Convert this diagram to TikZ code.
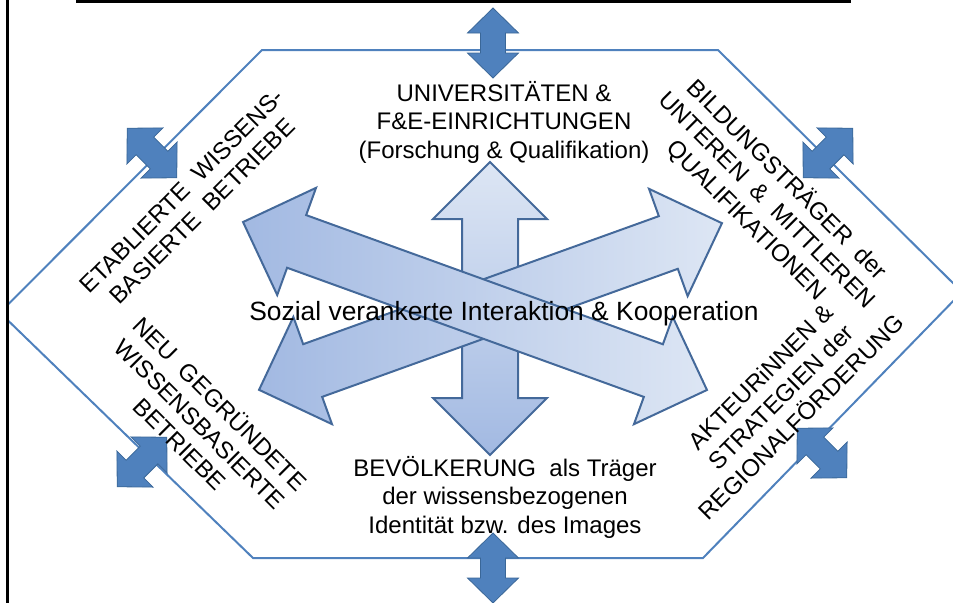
\documentclass[tikz,border=0pt]{standalone}
\usepackage{fontspec}
\setmainfont{Liberation Sans}

\definecolor{hexblue}{HTML}{4F81BD}
\definecolor{smallfill}{HTML}{4F81BD}
\definecolor{smalldraw}{HTML}{3A6798}
\definecolor{bigdark}{HTML}{A2B9E2}
\definecolor{biglight}{HTML}{DDE6F4}
\definecolor{bigdraw}{HTML}{44699A}

\tikzset{
  hexline/.style={draw=hexblue, line width=1.5pt},
  smallarrow/.style={fill=smallfill, draw=smalldraw, line width=0.6pt},
  bigarrow/.style={draw=bigdraw, line width=1.5pt, line join=miter},
  txt/.style={align=center, inner sep=0pt, font=\fontsize{18}{21.4}\selectfont},
}

% double headed block arrow: style, centre, angle, half length, head length, head half width, shaft half width
\newcommand{\dblarrow}[7]{%
  \path[#1, shift={#2}, rotate=#3]
    (-#4,0) -- ({-#4+#5},{#6}) -- ({-#4+#5},{#7}) -- ({#4-#5},{#7}) -- ({#4-#5},{#6})
    -- (#4,0) -- ({#4-#5},{-#6}) -- ({#4-#5},{-#7}) -- ({-#4+#5},{-#7}) -- ({-#4+#5},{-#6}) -- cycle;}

\begin{document}
\begin{tikzpicture}[x=0.75pt, y=-0.75pt]
  \useasboundingbox (0,0) rectangle (953,603);

  % hexagon
  \begin{scope}
    \clip (0,0) rectangle (953,603);
    \draw[hexline] (262,50) -- (718,50) -- (962,292) -- (703,558) -- (253,558) -- (7.5,320) -- (7.5,305) -- cycle;
  \end{scope}

  % frame lines of the slide
  \fill (6,0) rectangle (9,603);
  \fill (76,0) rectangle (851,2.5);

  % small arrows on the hexagon
  \dblarrow{smallarrow}{(493,43)}{90}{35}{25}{25.5}{12.5}
  \dblarrow{smallarrow}{(493,568)}{90}{35}{25}{25.5}{12.5}
  \dblarrow{smallarrow}{(152,153)}{-45}{35}{25}{25.5}{12.5}
  \dblarrow{smallarrow}{(828,153)}{45}{35}{25}{25.5}{12.5}
  \dblarrow{smallarrow}{(142,462)}{45}{35}{25}{25.5}{12.5}
  \dblarrow{smallarrow}{(822,453)}{-45}{35}{25}{25.5}{12.5}

  % big arrows in the middle
  \dblarrow{bigarrow, bottom color=bigdark, top color=biglight}{(490,308.5)}{90}{146.5}{57}{57}{28}
  \dblarrow{bigarrow, left color=bigdark, right color=biglight}{(490.5,306.5)}{19.8}{246}{57}{57}{28}
  \dblarrow{bigarrow, left color=bigdark, right color=biglight}{(475,306)}{-19.9}{246.7}{57}{57}{28}

  % texts
  \node (uni) [txt] at (504,122) {UNIVERSITÄTEN \&\\F\&E-EINRICHTUNGEN\\(Forschung \& Qualifikation)};
  \node (bev) [txt] at (505,497) {BEVÖLKERUNG\ \ als Träger\\der wissensbezogenen\\Identität bzw. des Images};
  \node (koop) [inner sep=0pt, anchor=base, font=\fontsize{19.8}{24}\selectfont] at (504,320) {Sozial verankerte Interaktion \& Kooperation};

  \node (etab) [txt, rotate=45] at (192,201) {ETABLIERTE\ \ WISSENS-\\BASIERTE\ \ BETRIEBE};
  \node (bild) [txt, rotate=-45] at (767,200) {BILDUNGSTRÄGER\ \ der\\UNTEREN\ \ \&\ \ MITTLEREN\\QUALIFIKATIONEN};
  \node (neu) [txt, rotate=-45] at (201,423) {NEU\ \ GEGRÜNDETE\\WISSENSBASIERTE\\BETRIEBE};
  \node (akt) [txt, rotate=45] at (781,397) {AKTEURiNNEN \&\\STRATEGIEN der\\REGIONALFÖRDERUNG};

\end{tikzpicture}
\end{document}
